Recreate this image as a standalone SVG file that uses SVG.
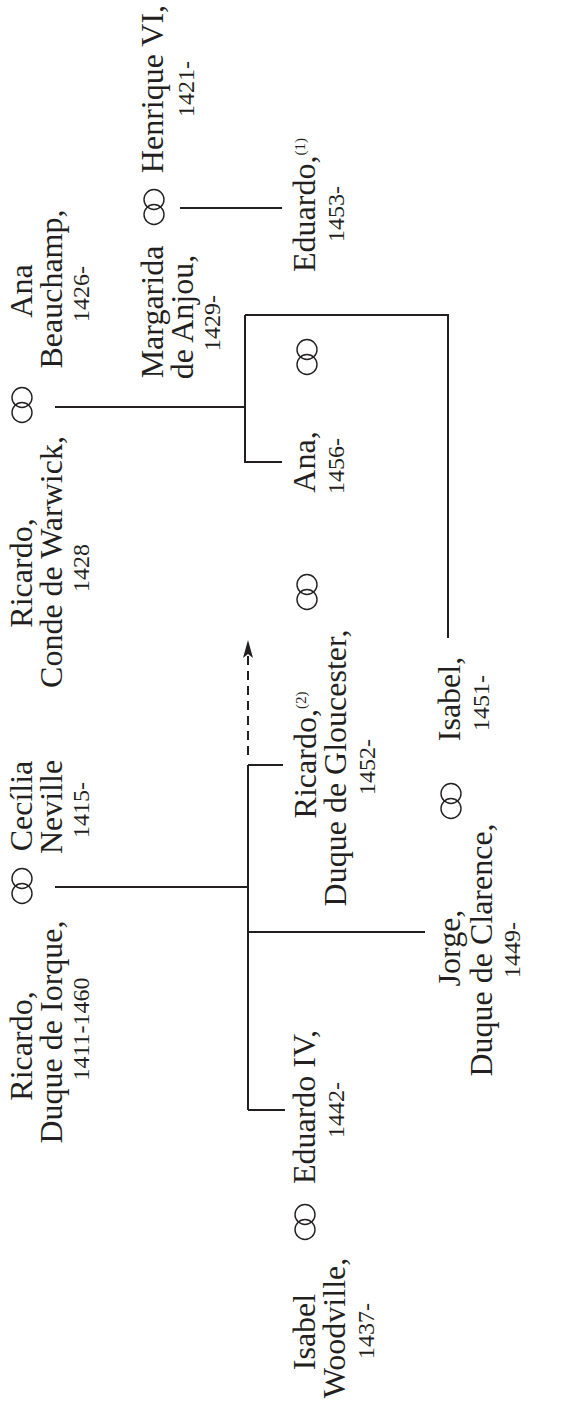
<svg xmlns="http://www.w3.org/2000/svg" width="578" height="1406" viewBox="0 0 578 1406">
<style>
  .n { font-family: "Liberation Serif", "DejaVu Serif", serif; font-size: 32px; fill: #231f20; text-anchor: middle; }
  .y { font-family: "Liberation Serif", "DejaVu Serif", serif; font-size: 24px; fill: #231f20; text-anchor: middle; }
  .sup { font-size: 15px; }
  .ln { fill: none; stroke: #231f20; stroke-width: 2; }
  .ring { fill: none; stroke: #231f20; stroke-width: 1.4; }
</style>
<defs>
  <g id="marr">
    <circle class="ring" cx="0" cy="-7.5" r="10"/>
    <circle class="ring" cx="0" cy="7.5" r="10"/>
  </g>
</defs>
<rect width="578" height="1406" fill="#ffffff"/>

<g id="connectors">
  <path class="ln" d="M55,887 H248"/>
  <path class="ln" d="M248,765 V1110"/>
  <path class="ln" d="M248,765 H283"/>
  <path class="ln" d="M248,932 H425"/>
  <path class="ln" d="M248,1110 H285"/>
  <path class="ln" d="M248,755 V656" stroke-dasharray="9 6"/>
  <path d="M248,640 L243,658 L248,654 L253,658 Z" fill="#231f20"/>
  <path class="ln" d="M55,407 H245"/>
  <path class="ln" d="M245,315 V462 H282"/>
  <path class="ln" d="M245,315 H448 V638"/>
  <path class="ln" d="M180,208 H282"/>
</g>

<g id="marriages">
  <use href="#marr" x="22" y="886"/>
  <use href="#marr" x="22" y="405"/>
  <use href="#marr" x="154" y="207"/>
  <use href="#marr" x="307" y="357"/>
  <use href="#marr" x="307" y="592"/>
  <use href="#marr" x="451" y="801"/>
  <use href="#marr" x="305" y="1222"/>
</g>

<g transform="matrix(0 -1 1 0 0 1406)">
  <g id="ricardo-york">
    <text class="n" x="360" y="32">Ricardo,</text>
    <text class="n" x="374" y="62">Duque de Iorque,</text>
    <text class="y" x="377" y="89">1411-1460</text>
  </g>
  <g id="cecilia-neville">
    <text class="n" x="600" y="32">Cecília</text>
    <text class="n" x="599" y="62">Neville</text>
    <text class="y" x="596" y="89">1415-</text>
  </g>
  <g id="ricardo-warwick">
    <text class="n" x="833" y="32">Ricardo,</text>
    <text class="n" x="844" y="62">Conde de Warwick,</text>
    <text class="y" x="838" y="89">1428</text>
  </g>
  <g id="ana-beauchamp">
    <text class="n" x="1115" y="32">Ana</text>
    <text class="n" x="1117" y="62">Beauchamp,</text>
    <text class="y" x="1112" y="89">1426-</text>
  </g>
  <g id="margarida-anjou">
    <text class="n" x="1094" y="163">Margarida</text>
    <text class="n" x="1089" y="193">de Anjou,</text>
    <text class="y" x="1083" y="220">1429-</text>
  </g>
  <g id="henrique-vi">
    <text class="n" x="1317" y="163">Henrique VI,</text>
    <text class="y" x="1317" y="194">1421-</text>
  </g>
  <g id="eduardo-1">
    <text class="n" x="1201" y="315">Eduardo,<tspan class="sup" dy="-10">(1)</tspan></text>
    <text class="y" x="1192" y="344">1453-</text>
  </g>
  <g id="ana">
    <text class="n" x="944" y="315">Ana,</text>
    <text class="y" x="940" y="344">1456-</text>
  </g>
  <g id="ricardo-gloucester">
    <text class="n" x="651" y="316">Ricardo,<tspan class="sup" dy="-10">(2)</tspan></text>
    <text class="n" x="638" y="346">Duque de Gloucester,</text>
    <text class="y" x="639" y="375">1452-</text>
  </g>
  <g id="eduardo-iv">
    <text class="n" x="299" y="315">Eduardo IV,</text>
    <text class="y" x="296" y="344">1442-</text>
  </g>
  <g id="isabel-woodville">
    <text class="n" x="74" y="315">Isabel</text>
    <text class="n" x="78" y="345">Woodville,</text>
    <text class="y" x="75" y="374">1437-</text>
  </g>
  <g id="isabel">
    <text class="n" x="707" y="460">Isabel,</text>
    <text class="y" x="703" y="489">1451-</text>
  </g>
  <g id="jorge">
    <text class="n" x="458" y="460">Jorge,</text>
    <text class="n" x="456" y="492">Duque de Clarence,</text>
    <text class="y" x="456" y="520">1449-</text>
  </g>
</g>
</svg>
